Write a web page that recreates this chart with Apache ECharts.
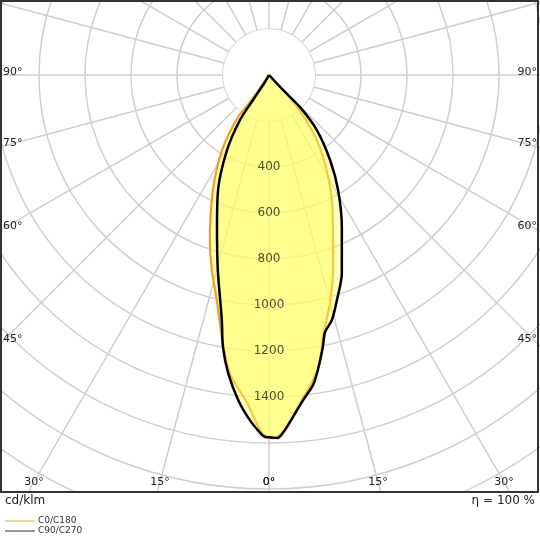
<!DOCTYPE html>
<html><head><meta charset="utf-8">
<script src="https://cdn.jsdelivr.net/npm/echarts@6/dist/echarts.min.js"></script>
<style>html,body{margin:0;padding:0;background:#fff}#c{width:540px;height:540px}</style>
</head><body><div id="c"></div>
<script>
// gamma (deg, 0 = down, + = right), intensity cd/klm
const c0c180 = [[-40,0],[-35,143],[-36.4,227],[-32,385],[-26,556],[-19.7,763],[-16.3,884],[-12.8,1017],[-10.2,1157],[-7.5,1307],[-3.8,1429],[-1.1,1557],[0.6,1580],[1.3,1574],[2.9,1533],[5.4,1432],[8.2,1340],[10.0,1272],[11.6,1163],[13.5,1082],[15.0,1026],[18.2,893],[21.2,770],[26.7,609],[33.4,427],[38.3,288],[42.4,135],[46,0]];
const c90c270 = [[-31,0],[-30,35],[-32.6,129],[-32.8,233],[-29.2,374],[-23.9,547],[-18.9,698],[-14.7,877],[-10.9,1085],[-9.6,1200],[-7.8,1308],[-5.4,1420],[-3.2,1502],[-1.4,1557],[-0.6,1574],[0.2,1575],[1.3,1579],[2.2,1558],[4.0,1491],[6.0,1421],[8.1,1361],[9.4,1300],[11.2,1206],[12.3,1144],[14.4,1100],[16.8,1022],[20.2,917],[25.6,733],[31,583],[35.7,455],[41,317],[44,194],[43,89],[46,0]];
const radialLabels = [400,600,800,1000,1200,1400];
const sideAngles = [90,75,60,45];
const bottomAngles = [30,15,0];
const seriesNames = ['C0/C180','C90/C270'];

const CX=269, CY=75, PXCD=0.23, RMAX=2400;
const chart = echarts.init(document.getElementById('c'));
const toPolar = arr => arr.map(p=>[p[1],p[0]]);
const g = [];
g.push({type:'circle',shape:{cx:CX,cy:CY,r:200*PXCD},style:{fill:'#fff'},z:1});
sideAngles.forEach(a=>{
  const y = CY + 267/Math.tan(a*Math.PI/180) - 3;
  g.push({type:'text',x:3,y:y,style:{text:a+'°',fill:'#222',font:'11px DejaVu Sans',textVerticalAlign:'middle',textAlign:'left'},z:50});
  g.push({type:'text',x:537,y:y,style:{text:a+'°',fill:'#222',font:'11px DejaVu Sans',textVerticalAlign:'middle',textAlign:'right'},z:50});
});
bottomAngles.forEach(a=>{
  const dx = 407*Math.tan(a*Math.PI/180);
  [CX-dx, CX+dx].forEach(x=>g.push({type:'text',x:x,y:482,style:{text:a+'°',fill:'#222',font:'11px DejaVu Sans',textVerticalAlign:'middle',textAlign:'center'},z:50}));
});
g.push({type:'rect',shape:{x:0,y:493,width:540,height:47},style:{fill:'#fff'},z:90});
g.push({type:'rect',shape:{x:1,y:1,width:537,height:491},style:{fill:'none',stroke:'#333',lineWidth:2},z:95});
g.push({type:'text',x:5,y:501,style:{text:'cd/klm',fill:'#222',font:'12px DejaVu Sans',textVerticalAlign:'middle'},z:96});
g.push({type:'text',x:535,y:501,style:{text:'η = 100 %',fill:'#222',font:'12px DejaVu Sans',textVerticalAlign:'middle',textAlign:'right'},z:96});
const legCols=['#f0a020','#1a2a5a'];
seriesNames.forEach((n,i)=>{
  const y=521+i*10;
  g.push({type:'line',shape:{x1:5,y1:y,x2:35,y2:y},style:{stroke:legCols[i],lineWidth:1},z:96});
  g.push({type:'text',x:38,y:y,style:{text:n,fill:'#333',font:'9px DejaVu Sans',textVerticalAlign:'middle'},z:96});
});

chart.setOption({
  animation:false,
  polar:{center:[CX,CY],radius:RMAX*PXCD},
  angleAxis:{type:'value',min:-180,max:180,interval:15,startAngle:90,clockwise:false,
    axisLine:{show:false},axisTick:{show:false},axisLabel:{show:false},
    splitLine:{show:true,lineStyle:{color:'#cfcfcf',width:1.5}}},
  radiusAxis:{type:'value',min:0,max:RMAX,interval:200,
    axisLine:{show:false},axisTick:{show:false},axisLabel:{show:false},
    splitLine:{show:true,lineStyle:{color:'#cfcfcf',width:1.5}}},
  graphic:g,
  series:[
    {name:seriesNames[0],type:'line',coordinateSystem:'polar',data:toPolar(c0c180),smooth:0.3,symbol:'none',z:3,
      lineStyle:{color:'#f0a020',width:2.2},areaStyle:{color:'rgba(255,255,100,0.75)'}},
    {name:seriesNames[1],type:'line',coordinateSystem:'polar',data:toPolar(c90c270),smooth:0.3,symbol:'none',z:4,
      lineStyle:{color:'#000',width:2.5},areaStyle:{color:'rgba(255,255,100,0.6)'}},
    {type:'scatter',coordinateSystem:'polar',data:radialLabels.map(v=>[v,0]),symbolSize:0,z:10,silent:true,
      label:{show:true,position:'inside',formatter:p=>String(p.value[0]),color:'#222',fontSize:12,fontFamily:'DejaVu Sans'}}
  ]
});
</script></body></html>
